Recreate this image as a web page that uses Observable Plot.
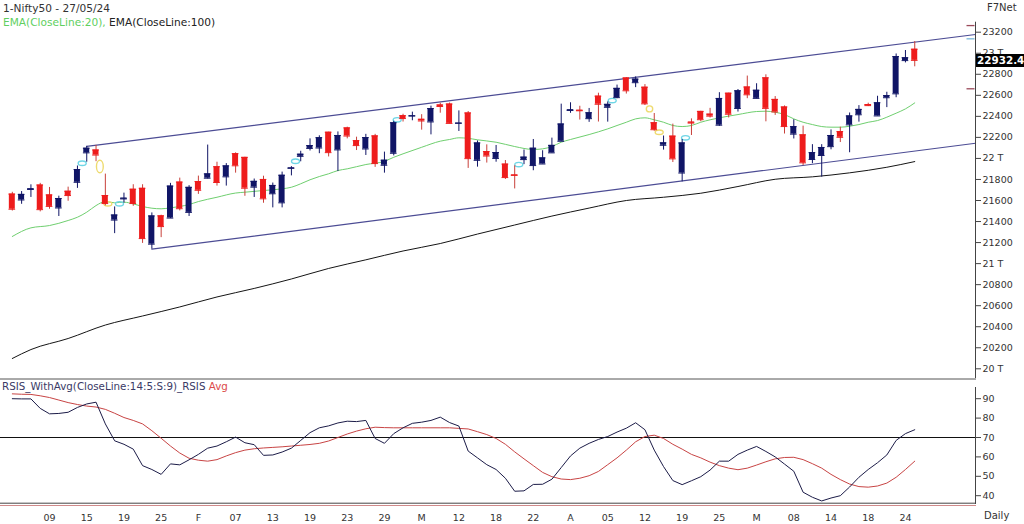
<!DOCTYPE html>
<html>
<head>
<meta charset="utf-8">
<script src="https://cdn.jsdelivr.net/npm/d3@7"></script>
<script src="https://cdn.jsdelivr.net/npm/@observablehq/plot@0.6"></script>
<style>
html,body{margin:0;padding:0;background:#fff;}
#chart{position:relative;width:1024px;height:524px;overflow:hidden;font-family:"DejaVu Sans",Verdana,sans-serif;}
#chart .pane{position:absolute;left:0;}
#chart .t{position:absolute;white-space:nowrap;line-height:1;}
</style>
</head>
<body>
<div id="chart"></div>
<script>
// ---------------- DATA ----------------
const DATES = [
"2024-01-03","2024-01-04","2024-01-05","2024-01-08","2024-01-09","2024-01-10","2024-01-11","2024-01-12","2024-01-15","2024-01-16",
"2024-01-17","2024-01-18","2024-01-19","2024-01-20","2024-01-23","2024-01-24","2024-01-25","2024-01-29","2024-01-30","2024-01-31",
"2024-02-01","2024-02-02","2024-02-05","2024-02-06","2024-02-07","2024-02-08","2024-02-09","2024-02-12","2024-02-13","2024-02-14",
"2024-02-15","2024-02-16","2024-02-19","2024-02-20","2024-02-21","2024-02-22","2024-02-23","2024-02-26","2024-02-27","2024-02-28",
"2024-02-29","2024-03-01","2024-03-02","2024-03-04","2024-03-05","2024-03-06","2024-03-07","2024-03-11","2024-03-12","2024-03-13",
"2024-03-14","2024-03-15","2024-03-18","2024-03-19","2024-03-20","2024-03-21","2024-03-22","2024-03-26","2024-03-27","2024-03-28",
"2024-04-01","2024-04-02","2024-04-03","2024-04-04","2024-04-05","2024-04-08","2024-04-09","2024-04-10","2024-04-12","2024-04-15",
"2024-04-16","2024-04-18","2024-04-19","2024-04-22","2024-04-23","2024-04-24","2024-04-25","2024-04-26","2024-04-29","2024-04-30",
"2024-05-02","2024-05-03","2024-05-06","2024-05-07","2024-05-08","2024-05-09","2024-05-10","2024-05-13","2024-05-14","2024-05-15",
"2024-05-16","2024-05-17","2024-05-18","2024-05-21","2024-05-22","2024-05-23","2024-05-24","2024-05-27"];

const OPEN = [
21661,21605,21705,21747,21653,21529,21688,21773,22053,22080,
21647,21414,21615,21707,21716,21185,21454,21433,21775,21487,
21780,21812,21921,21825,22045,22010,21727,21800,21664,21578,
21906,22020,22095,22099,22249,22081,22290,22169,22090,22214,
21935,22049,22406,22403,22372,22347,22508,22517,22334,22432,
21982,22065,22000,21946,21843,21989,21932,21947,22053,22163,
22456,22458,22378,22592,22486,22578,22765,22720,22677,22339,
22125,22212,21861,22345,22447,22421,22316,22620,22475,22679,
22571,22766,22561,22489,22231,22224,21990,22028,22112,22255,
22319,22415,22512,22404,22577,22614,22930,23038];
const HIGH = [
21678,21685,21749,21763,21724,21641,21727,21928,22115,22124,
21851,21539,21670,21750,21750,21482,21460,21763,21813,21741,
21832,22127,21964,21951,22053,22011,21804,21831,21766,21870,
21922,22068,22186,22215,22249,22252,22297,22202,22229,22229,
22060,22353,22420,22440,22416,22497,22525,22527,22452,22446,
22166,22129,22123,21980,21930,22080,22180,22073,22193,22516,
22529,22496,22475,22620,22537,22697,22768,22775,22702,22427,
22213,22326,22179,22376,22448,22476,22625,22620,22655,22783,
22710,22795,22588,22499,22368,22307,22131,22131,22271,22297,
22432,22502,22525,22591,22629,22993,23026,23111];
const LOW = [
21500,21564,21629,21492,21517,21448,21593,21715,21964,21969,
21550,21285,21575,21545,21192,21137,21247,21429,21501,21448,
21658,21805,21737,21737,21860,21640,21629,21574,21530,21530,
21834,21968,22071,22045,22014,21875,22186,22075,22028,21915,
21860,22024,22346,22358,22269,22224,22430,22329,22256,21905,
21917,21956,21964,21800,21710,21941,21883,21947,22052,22163,
22429,22365,22343,22346,22345,22568,22612,22673,22503,22259,
22079,21961,21777,22218,22349,22384,22305,22385,22441,22568,
22568,22348,22409,22232,22185,21932,21950,21822,22082,22151,
22054,22345,22493,22404,22483,22577,22908,22871];
const CLOSE = [
21517,21658,21711,21513,21544,21619,21647,21894,22097,22032,
21571,21462,21622,21571,21238,21453,21352,21737,21522,21725,
21697,21853,21771,21929,21930,21717,21782,21616,21743,21840,
21910,22040,22122,22197,22055,22218,22213,22122,22198,21951,
21983,22339,22379,22406,22356,22474,22494,22333,22336,21998,
22147,22023,22056,21818,21839,22012,22097,22005,22124,22327,
22462,22453,22434,22515,22514,22666,22643,22754,22519,22273,
22148,21996,22147,22336,22368,22402,22570,22420,22643,22605,
22648,22476,22442,22303,22302,21958,22055,22104,22218,22201,
22404,22466,22502,22529,22597,22968,22957,22932.4];

// EMA readings (bar position, value)
const EMA20_POS = [0,2,4,6,7,8,9,10,11,12,13,14,16,17,18,19,20,22,24,25,27,29,30,31,32,33,34,35,36,38,40,41,42,44,46,47,48,49,50,52,54,56,57,58,59,60,62,64,65,66,67,68,69,70,71,72,73,74,75,76,78,80,81,82,83,84,85,86,87,88,89,90,91,92,93,94,95,96,97];
const EMA20_VAL = [21258,21340,21362,21410,21441,21489,21552,21590,21578,21584,21568,21543,21521,21530,21543,21562,21590,21631,21671,21679,21695,21711,21726,21759,21797,21828,21854,21885,21901,21942,21973,22011,22044,22106,22164,22180,22196,22191,22177,22154,22113,22085,22091,22113,22154,22180,22227,22281,22313,22344,22376,22386,22367,22344,22313,22303,22313,22344,22367,22386,22417,22446,22449,22439,22417,22376,22344,22322,22303,22297,22297,22306,22322,22344,22360,22392,22430,22471,22528];
const EMA100_POS = [0,2,6,10,14,18,22,26,30,34,38,42,46,50,54,58,62,66,70,74,78,82,86,90,94,97];
const EMA100_VAL = [20098,20183,20288,20416,20502,20588,20683,20764,20854,20954,21036,21120,21191,21281,21367,21452,21528,21600,21631,21669,21733,21802,21825,21863,21916,21970];

// trend channel (bar position, price); right ends sit on the price axis
const CHANNEL_UPPER_POS = [8, 103.53];
const CHANNEL_UPPER_VAL = [22115, 23178];
const CHANNEL_LOWER_POS = [15, 103.53];
const CHANNEL_LOWER_VAL = [21137, 22144];

// gap markers
const GAP_POS  = [7.51, 9.41, 10.27, 11.52, 30.44, 41.37, 54.44, 64.48, 68.49, 69.53, 72.36];
const GAP_VAL  = [21954, 21923, 21568, 21568, 21973, 22367, 21942, 22550, 22471, 22249, 22196];
const GAP_KIND = ["up","down","down","up","up","up","up","up","down","down","up"];
const GAP_SHAPE= ["flat","tall","flat","flat","flat","flat","flat","flat","round","flat","flat"];

// small level marks beside the price axis
const LEVEL_MARKS = [23263, 23137, 22662];
const LEVEL_KIND  = ["hi","mid","hi"];

const PRICE_TICKS = [20000,20200,20400,20600,20800,21000,21200,21400,21600,21800,22000,22200,22400,22600,22800,23000,23200];

const RSI = [90,89.9,89.9,85,82.2,82.4,83,85.5,87.3,88.2,
77,68.3,66.5,64,55.5,53.5,51,56.4,55.9,58.5,
61.3,64.5,65.6,67.8,70.2,67.3,66.3,60.8,61,62.5,
64.5,68.5,72.5,75,76,77.5,78.4,78.2,78.8,69.5,
67,72,75,77.3,77.9,78.8,80.5,77.7,75.9,63,
59.5,56,53.5,49,42.3,42.5,45.8,45.9,48.5,54.5,
60.5,64.5,67,69,70.5,72.8,74.8,77.6,74,63.5,
55,47.8,45.7,47.7,49.8,53.2,57.8,57.8,61.3,63.5,
65.4,62.8,60,56.3,52.6,41.8,39.2,37.3,38.8,40,
44.5,49.5,53.5,57,61,68.5,72,74];
const RSI_AVG = [92.5,92.3,92.2,91.5,90.6,89.3,88,87,86.2,85.7,
84.5,82.5,80.3,78.8,77,73.5,69.6,65.6,62,59.3,
58.3,57.8,58.6,60.5,62.2,63.5,64.2,64.6,64.9,65.2,
65.6,66,66.4,67,68.2,70,71.8,73.3,74.5,75.3,
75.1,75,75,75,75,75,75,75,74.7,74.4,
73,71.5,69.5,66.5,62.6,59,55.5,52,49.8,48.6,
48.3,49,50.3,52.5,56,59.5,63.5,67.8,70.5,71.2,
69.5,66.5,64,61.3,59.5,57.3,55.5,54.2,53.4,54.2,
55.8,57.5,59,59.7,59.8,58.6,56.5,54.2,51,48.3,
46,44.7,44.4,45,46.5,49.5,53.5,57.8];
const RSI_LEVELS = [70];
const RSI_TICKS = [40,50,60,70,80,90];

const X_TICK_DATES = ["2024-01-09","2024-01-15","2024-01-19","2024-01-25","2024-02-01","2024-02-07","2024-02-13","2024-02-19","2024-02-23","2024-02-29","2024-03-05","2024-03-12","2024-03-18","2024-03-22","2024-04-01","2024-04-05","2024-04-12","2024-04-19","2024-04-25","2024-05-02","2024-05-08","2024-05-14","2024-05-18","2024-05-24"];
const X_TICK_LABELS = ["09","15","19","25","F","07","13","19","23","29","M","12","18","22","A","05","12","19","25","M","08","14","18","24"];

// ---------------- BUILD ----------------
const BLUE = "#101566", RED = "#ee1c1c", RED_WICK = "#c8403a";
const X_DOMAIN = [-1.27, 103.53];
const FONT = "DejaVu Sans, Verdana, sans-serif";

const candles = DATES.map((date, i) => ({i, date, o: OPEN[i], h: HIGH[i], l: LOW[i], c: CLOSE[i], up: CLOSE[i] >= OPEN[i]}));
const ema20 = EMA20_POS.map((p, k) => ({p, v: EMA20_VAL[k]}));
const ema100 = EMA100_POS.map((p, k) => ({p, v: EMA100_VAL[k]}));
const chUp = CHANNEL_UPPER_POS.map((p, k) => ({p, v: CHANNEL_UPPER_VAL[k]}));
const chLo = CHANNEL_LOWER_POS.map((p, k) => ({p, v: CHANNEL_LOWER_VAL[k]}));
const gaps = GAP_POS.map((p, k) => ({p, v: GAP_VAL[k], kind: GAP_KIND[k], shape: GAP_SHAPE[k]}));
const levels = LEVEL_MARKS.map((v, k) => ({v, kind: LEVEL_KIND[k]}));
const rsi = RSI.map((v, i) => ({i, v}));
const rsiAvg = RSI_AVG.map((v, i) => ({i, v}));
const xTicks = X_TICK_DATES.map((d, k) => ({i: DATES.indexOf(d), label: X_TICK_LABELS[k]}));

function ellipseSymbol(rx, ry) {
  const k = 0.5523;
  return {draw(ctx) {
    ctx.moveTo(rx, 0);
    ctx.bezierCurveTo(rx, ry * k, rx * k, ry, 0, ry);
    ctx.bezierCurveTo(-rx * k, ry, -rx, ry * k, -rx, 0);
    ctx.bezierCurveTo(-rx, -ry * k, -rx * k, -ry, 0, -ry);
    ctx.bezierCurveTo(rx * k, -ry, rx, -ry * k, rx, 0);
    ctx.closePath();
  }};
}
const SHAPES = {flat: ellipseSymbol(4, 2.2), tall: ellipseSymbol(3.4, 6.2), round: ellipseSymbol(3.2, 3)};
const dashSymbol = {draw(ctx) { ctx.moveTo(-4, 0); ctx.lineTo(4, 0); }};

const gapMarks = Object.keys(SHAPES).map(s => Plot.dot(gaps.filter(d => d.shape === s), {
  x: "p", y: "v", r: 3, symbol: SHAPES[s], fill: "none",
  stroke: d => d.kind === "up" ? "#6fd6e6" : "#eedb70", strokeWidth: 1.4
}));

const pricePlot = Plot.plot({
  width: 1024, height: 378,
  marginLeft: 0, marginRight: 49, marginTop: 31.7, marginBottom: 9.7,
  style: {fontFamily: FONT, fontSize: "9.5px", color: "#333", background: "transparent"},
  x: {type: "linear", domain: X_DOMAIN, axis: null},
  y: {domain: [20000, 23200], axis: null},
  marks: [
    Plot.line(chUp, {x: "p", y: "v", stroke: "#4c4c94", strokeWidth: 1.2}),
    Plot.line(chLo, {x: "p", y: "v", stroke: "#4c4c94", strokeWidth: 1.2}),
    Plot.line(ema100, {x: "p", y: "v", stroke: "#151515", strokeWidth: 1, curve: "monotone-x"}),
    Plot.line(ema20, {x: "p", y: "v", stroke: "#6fcf6f", strokeWidth: 1, curve: "monotone-x"}),
    ...gapMarks,
    Plot.ruleX(candles, {x: "i", y1: "l", y2: "h", stroke: d => d.up ? BLUE : RED_WICK, strokeWidth: 1}),
    Plot.rect(candles, {x1: d => d.i - 0.32, x2: d => d.i + 0.32, y1: "o", y2: "c", fill: d => d.up ? BLUE : RED}),
    Plot.ruleY(candles, {y: "c", x1: d => d.i - 0.36, x2: d => d.i + 0.36, stroke: d => d.up ? BLUE : RED, strokeWidth: 1}),
    Plot.ruleY(candles, {y: "o", x1: d => d.i - 0.36, x2: d => d.i + 0.36, stroke: d => d.up ? BLUE : RED, strokeWidth: 1}),
    Plot.dot(levels, {y: "v", frameAnchor: "right", dx: -5, symbol: dashSymbol, r: 3, fill: "none",
      stroke: d => d.kind === "hi" ? "#9a4a5a" : "#7ab8d8", strokeWidth: 1.3}),
    Plot.frame({anchor: "right", insetTop: -10, insetBottom: -11.7, stroke: "#444"}),
    Plot.axisY({anchor: "right", ticks: PRICE_TICKS, tickFormat: v => v % 1000 === 0 ? `${v / 1000} T` : String(v),
      tickSize: 5, tickPadding: 2, label: null, fontSize: 9.5, stroke: "#444", fill: "#333"})
  ]
});

const rsiPlot = Plot.plot({
  width: 1024, height: 146,
  marginLeft: 0, marginRight: 49, marginTop: 20.2, marginBottom: 28.8,
  style: {fontFamily: FONT, fontSize: "9.5px", color: "#333", background: "transparent"},
  x: {type: "linear", domain: X_DOMAIN, axis: null},
  y: {domain: [40, 90], axis: null},
  marks: [
    Plot.frame({anchor: "top", insetTop: -19.7, stroke: "#555"}),
    Plot.frame({anchor: "bottom", insetBottom: -7.5, stroke: "#444"}),
    Plot.frame({anchor: "bottom", insetBottom: -9.8, stroke: "#d08a8a"}),
    Plot.ruleY(RSI_LEVELS, {stroke: "#111", strokeWidth: 1}),
    Plot.line(rsiAvg, {x: "i", y: "v", stroke: "#c84444", strokeWidth: 1}),
    Plot.line(rsi, {x: "i", y: "v", stroke: "#1c1c48", strokeWidth: 1}),
    Plot.frame({anchor: "right", insetTop: -11.2, insetBottom: -7.8, stroke: "#444"}),
    Plot.axisY({anchor: "right", ticks: RSI_TICKS, tickSize: 5, tickPadding: 2, label: null, fontSize: 9.5, stroke: "#444", fill: "#333"}),
    Plot.text(xTicks, {x: "i", text: "label", frameAnchor: "bottom", dy: 21.8, lineAnchor: "middle", fontSize: 9.5, fill: "#333"})
  ]
});

const root = document.getElementById("chart");
function pane(el, top) { el.classList.add("pane"); el.style.top = top + "px"; root.appendChild(el); }
pane(pricePlot, 0);
pane(rsiPlot, 378);

function label(html, left, top, size, color, extra) {
  const d = document.createElement("div");
  d.className = "t";
  d.innerHTML = html;
  d.style.left = left + "px"; d.style.top = top + "px";
  d.style.fontSize = size + "px"; d.style.color = color;
  if (extra) Object.assign(d.style, extra);
  root.appendChild(d);
  return d;
}
label("1-Nifty50 - 27/05/24", 3, 3, 10.6, "#333");
label('<span style="color:#5fcf5f">EMA(CloseLine:20),</span> <span style="color:#222">EMA(CloseLine:100)</span>', 3, 16.5, 10.6, "#222");
label("F7Net", 987, 2.5, 10, "#333");
label('<span style="color:#3a3a66">RSIS_WithAvg(CloseLine:14:5:S:9)_RSIS</span> <span style="color:#dc4a4a">Avg</span>', 2, 380.5, 10.3, "#3a3a66");
label("Daily", 984, 511, 10, "#333");

// last price tag, placed through the price scale
const last = CLOSE[CLOSE.length - 1];
const yLast = pricePlot.scale("y").apply(last);
label(last.toFixed(1), 976, yLast - 6, 10.4, "#fff", {background: "#000", padding: "1px 0 0 1px", width: "47px", height: "12px", fontWeight: "bold", overflow: "hidden"});
</script>
</body>
</html>
